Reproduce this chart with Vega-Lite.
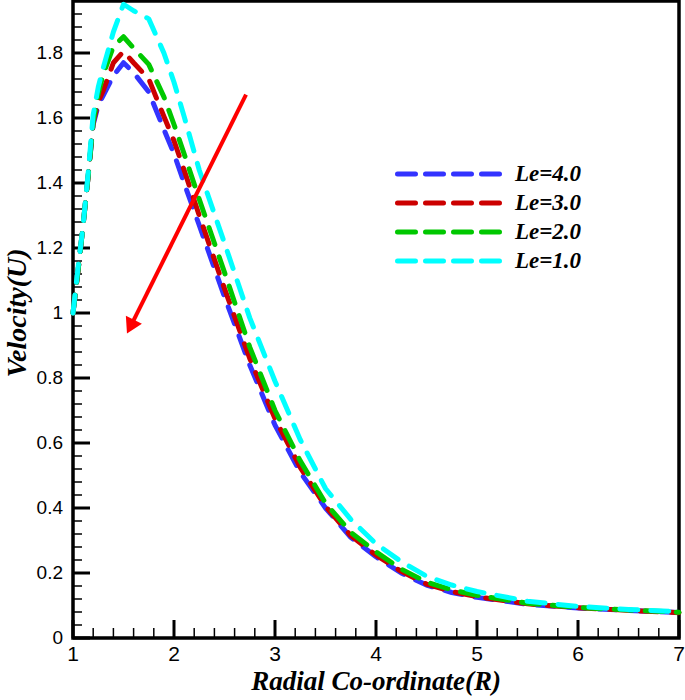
{
  "$schema": "https://vega.github.io/schema/vega-lite/v6.json",
  "width": 606,
  "height": 637,
  "autosize": {"type": "none"},
  "padding": {"left": 73, "top": 1, "right": 6, "bottom": 62},
  "background": "white",
  "config": {
    "view": {"stroke": "black", "strokeWidth": 3.5},
    "font": "Liberation Sans"
  },
  "datasets": {
    "curves": [
      {"series": "Le=4.0", "R": 1.0, "U": 1.0}, {"series": "Le=4.0", "R": 1.05, "U": 1.13}, {"series": "Le=4.0", "R": 1.1, "U": 1.27}, {"series": "Le=4.0", "R": 1.15, "U": 1.42}, {"series": "Le=4.0", "R": 1.2, "U": 1.58}, {"series": "Le=4.0", "R": 1.25, "U": 1.64}, {"series": "Le=4.0", "R": 1.3, "U": 1.67}, {"series": "Le=4.0", "R": 1.4, "U": 1.73}, {"series": "Le=4.0", "R": 1.5, "U": 1.77}, {"series": "Le=4.0", "R": 1.6, "U": 1.74}, {"series": "Le=4.0", "R": 1.75, "U": 1.68}, {"series": "Le=4.0", "R": 1.9, "U": 1.565}, {"series": "Le=4.0", "R": 2.0, "U": 1.49}, {"series": "Le=4.0", "R": 2.1, "U": 1.40}, {"series": "Le=4.0", "R": 2.25, "U": 1.27}, {"series": "Le=4.0", "R": 2.5, "U": 1.05}, {"series": "Le=4.0", "R": 2.75, "U": 0.84}, {"series": "Le=4.0", "R": 3.0, "U": 0.655}, {"series": "Le=4.0", "R": 3.25, "U": 0.51}, {"series": "Le=4.0", "R": 3.5, "U": 0.40}, {"series": "Le=4.0", "R": 3.75, "U": 0.31}, {"series": "Le=4.0", "R": 4.0, "U": 0.25}, {"series": "Le=4.0", "R": 4.25, "U": 0.20}, {"series": "Le=4.0", "R": 4.5, "U": 0.163}, {"series": "Le=4.0", "R": 4.75, "U": 0.14}, {"series": "Le=4.0", "R": 5.0, "U": 0.125}, {"series": "Le=4.0", "R": 5.5, "U": 0.104}, {"series": "Le=4.0", "R": 6.0, "U": 0.092}, {"series": "Le=4.0", "R": 6.5, "U": 0.085}, {"series": "Le=4.0", "R": 7.0, "U": 0.078},
      {"series": "Le=3.0", "R": 1.0, "U": 1.0}, {"series": "Le=3.0", "R": 1.05, "U": 1.13}, {"series": "Le=3.0", "R": 1.1, "U": 1.27}, {"series": "Le=3.0", "R": 1.15, "U": 1.42}, {"series": "Le=3.0", "R": 1.2, "U": 1.585}, {"series": "Le=3.0", "R": 1.25, "U": 1.65}, {"series": "Le=3.0", "R": 1.3, "U": 1.685}, {"series": "Le=3.0", "R": 1.4, "U": 1.77}, {"series": "Le=3.0", "R": 1.5, "U": 1.805}, {"series": "Le=3.0", "R": 1.6, "U": 1.77}, {"series": "Le=3.0", "R": 1.75, "U": 1.72}, {"series": "Le=3.0", "R": 1.9, "U": 1.605}, {"series": "Le=3.0", "R": 2.0, "U": 1.53}, {"series": "Le=3.0", "R": 2.1, "U": 1.44}, {"series": "Le=3.0", "R": 2.25, "U": 1.30}, {"series": "Le=3.0", "R": 2.5, "U": 1.075}, {"series": "Le=3.0", "R": 2.75, "U": 0.86}, {"series": "Le=3.0", "R": 3.0, "U": 0.675}, {"series": "Le=3.0", "R": 3.25, "U": 0.525}, {"series": "Le=3.0", "R": 3.5, "U": 0.405}, {"series": "Le=3.0", "R": 3.75, "U": 0.315}, {"series": "Le=3.0", "R": 4.0, "U": 0.255}, {"series": "Le=3.0", "R": 4.25, "U": 0.205}, {"series": "Le=3.0", "R": 4.5, "U": 0.166}, {"series": "Le=3.0", "R": 4.75, "U": 0.143}, {"series": "Le=3.0", "R": 5.0, "U": 0.127}, {"series": "Le=3.0", "R": 5.5, "U": 0.105}, {"series": "Le=3.0", "R": 6.0, "U": 0.093}, {"series": "Le=3.0", "R": 6.5, "U": 0.085}, {"series": "Le=3.0", "R": 7.0, "U": 0.078},
      {"series": "Le=2.0", "R": 1.0, "U": 1.0}, {"series": "Le=2.0", "R": 1.05, "U": 1.13}, {"series": "Le=2.0", "R": 1.1, "U": 1.27}, {"series": "Le=2.0", "R": 1.15, "U": 1.42}, {"series": "Le=2.0", "R": 1.2, "U": 1.59}, {"series": "Le=2.0", "R": 1.25, "U": 1.675}, {"series": "Le=2.0", "R": 1.3, "U": 1.735}, {"series": "Le=2.0", "R": 1.4, "U": 1.82}, {"series": "Le=2.0", "R": 1.5, "U": 1.85}, {"series": "Le=2.0", "R": 1.6, "U": 1.815}, {"series": "Le=2.0", "R": 1.75, "U": 1.765}, {"series": "Le=2.0", "R": 1.9, "U": 1.665}, {"series": "Le=2.0", "R": 2.0, "U": 1.58}, {"series": "Le=2.0", "R": 2.1, "U": 1.49}, {"series": "Le=2.0", "R": 2.25, "U": 1.35}, {"series": "Le=2.0", "R": 2.5, "U": 1.125}, {"series": "Le=2.0", "R": 2.75, "U": 0.895}, {"series": "Le=2.0", "R": 3.0, "U": 0.70}, {"series": "Le=2.0", "R": 3.25, "U": 0.545}, {"series": "Le=2.0", "R": 3.5, "U": 0.415}, {"series": "Le=2.0", "R": 3.75, "U": 0.325}, {"series": "Le=2.0", "R": 4.0, "U": 0.265}, {"series": "Le=2.0", "R": 4.25, "U": 0.212}, {"series": "Le=2.0", "R": 4.5, "U": 0.172}, {"series": "Le=2.0", "R": 4.75, "U": 0.148}, {"series": "Le=2.0", "R": 5.0, "U": 0.131}, {"series": "Le=2.0", "R": 5.5, "U": 0.107}, {"series": "Le=2.0", "R": 6.0, "U": 0.094}, {"series": "Le=2.0", "R": 6.5, "U": 0.086}, {"series": "Le=2.0", "R": 7.0, "U": 0.079},
      {"series": "Le=1.0", "R": 1.0, "U": 1.0}, {"series": "Le=1.0", "R": 1.05, "U": 1.14}, {"series": "Le=1.0", "R": 1.1, "U": 1.27}, {"series": "Le=1.0", "R": 1.15, "U": 1.43}, {"series": "Le=1.0", "R": 1.2, "U": 1.61}, {"series": "Le=1.0", "R": 1.25, "U": 1.695}, {"series": "Le=1.0", "R": 1.3, "U": 1.755}, {"series": "Le=1.0", "R": 1.4, "U": 1.865}, {"series": "Le=1.0", "R": 1.5, "U": 1.95}, {"series": "Le=1.0", "R": 1.6, "U": 1.93}, {"series": "Le=1.0", "R": 1.75, "U": 1.905}, {"series": "Le=1.0", "R": 1.9, "U": 1.80}, {"series": "Le=1.0", "R": 2.0, "U": 1.71}, {"series": "Le=1.0", "R": 2.1, "U": 1.605}, {"series": "Le=1.0", "R": 2.25, "U": 1.44}, {"series": "Le=1.0", "R": 2.5, "U": 1.215}, {"series": "Le=1.0", "R": 2.75, "U": 0.985}, {"series": "Le=1.0", "R": 3.0, "U": 0.79}, {"series": "Le=1.0", "R": 3.25, "U": 0.61}, {"series": "Le=1.0", "R": 3.5, "U": 0.46}, {"series": "Le=1.0", "R": 3.75, "U": 0.365}, {"series": "Le=1.0", "R": 4.0, "U": 0.29}, {"series": "Le=1.0", "R": 4.25, "U": 0.235}, {"series": "Le=1.0", "R": 4.5, "U": 0.19}, {"series": "Le=1.0", "R": 4.75, "U": 0.163}, {"series": "Le=1.0", "R": 5.0, "U": 0.143}, {"series": "Le=1.0", "R": 5.5, "U": 0.113}, {"series": "Le=1.0", "R": 6.0, "U": 0.097}, {"series": "Le=1.0", "R": 6.5, "U": 0.088}, {"series": "Le=1.0", "R": 7.0, "U": 0.081}
    ],
    "arrow": [
      {"R1": 2.713, "U1": 1.672, "R2": 1.58, "U2": 0.965}
    ],
    "axistitles": [
      {"axis": "x", "text": "Radial Co-ordinate(R)"},
      {"axis": "y", "text": "Velocity(U)"}
    ],
    "xticks": [
      {"v": 1, "major": true}, {"v": 1.2, "major": false}, {"v": 1.4, "major": false}, {"v": 1.6, "major": false}, {"v": 1.8, "major": false},
      {"v": 2, "major": true}, {"v": 2.2, "major": false}, {"v": 2.4, "major": false}, {"v": 2.6, "major": false}, {"v": 2.8, "major": false},
      {"v": 3, "major": true}, {"v": 3.2, "major": false}, {"v": 3.4, "major": false}, {"v": 3.6, "major": false}, {"v": 3.8, "major": false},
      {"v": 4, "major": true}, {"v": 4.2, "major": false}, {"v": 4.4, "major": false}, {"v": 4.6, "major": false}, {"v": 4.8, "major": false},
      {"v": 5, "major": true}, {"v": 5.2, "major": false}, {"v": 5.4, "major": false}, {"v": 5.6, "major": false}, {"v": 5.8, "major": false},
      {"v": 6, "major": true}, {"v": 6.2, "major": false}, {"v": 6.4, "major": false}, {"v": 6.6, "major": false}, {"v": 6.8, "major": false},
      {"v": 7, "major": true}
    ],
    "yticks": [
      {"v": 0, "major": true}, {"v": 0.04, "major": false}, {"v": 0.08, "major": false}, {"v": 0.12, "major": false}, {"v": 0.16, "major": false},
      {"v": 0.2, "major": true}, {"v": 0.24, "major": false}, {"v": 0.28, "major": false}, {"v": 0.32, "major": false}, {"v": 0.36, "major": false},
      {"v": 0.4, "major": true}, {"v": 0.44, "major": false}, {"v": 0.48, "major": false}, {"v": 0.52, "major": false}, {"v": 0.56, "major": false},
      {"v": 0.6, "major": true}, {"v": 0.64, "major": false}, {"v": 0.68, "major": false}, {"v": 0.72, "major": false}, {"v": 0.76, "major": false},
      {"v": 0.8, "major": true}, {"v": 0.84, "major": false}, {"v": 0.88, "major": false}, {"v": 0.92, "major": false}, {"v": 0.96, "major": false},
      {"v": 1, "major": true}, {"v": 1.04, "major": false}, {"v": 1.08, "major": false}, {"v": 1.12, "major": false}, {"v": 1.16, "major": false},
      {"v": 1.2, "major": true}, {"v": 1.24, "major": false}, {"v": 1.28, "major": false}, {"v": 1.32, "major": false}, {"v": 1.36, "major": false},
      {"v": 1.4, "major": true}, {"v": 1.44, "major": false}, {"v": 1.48, "major": false}, {"v": 1.52, "major": false}, {"v": 1.56, "major": false},
      {"v": 1.6, "major": true}, {"v": 1.64, "major": false}, {"v": 1.68, "major": false}, {"v": 1.72, "major": false}, {"v": 1.76, "major": false},
      {"v": 1.8, "major": true}, {"v": 1.84, "major": false}, {"v": 1.88, "major": false}, {"v": 1.92, "major": false}
    ]
  },
  "layer": [
    {
      "data": {"name": "xticks"},
      "transform": [{"filter": "datum.major"}],
      "mark": {"type": "rule", "color": "black", "strokeWidth": 3, "y2Offset": -18},
      "encoding": {
        "x": {"field": "v", "type": "quantitative", "axis": null},
        "y": {"datum": 0, "type": "quantitative", "axis": null},
        "y2": {"datum": 0}
      }
    },
    {
      "data": {"name": "xticks"},
      "transform": [{"filter": "!datum.major"}],
      "mark": {"type": "rule", "color": "black", "strokeWidth": 1.5, "y2Offset": -10},
      "encoding": {
        "x": {"field": "v", "type": "quantitative", "axis": null},
        "y": {"datum": 0, "type": "quantitative", "axis": null},
        "y2": {"datum": 0}
      }
    },
    {
      "data": {"name": "yticks"},
      "transform": [{"filter": "datum.major"}],
      "mark": {"type": "rule", "color": "black", "strokeWidth": 3, "x2Offset": 17},
      "encoding": {
        "y": {"field": "v", "type": "quantitative", "axis": null},
        "x": {"datum": 1, "type": "quantitative", "axis": null},
        "x2": {"datum": 1}
      }
    },
    {
      "data": {"name": "yticks"},
      "transform": [{"filter": "!datum.major"}],
      "mark": {"type": "rule", "color": "black", "strokeWidth": 1.5, "x2Offset": 9},
      "encoding": {
        "y": {"field": "v", "type": "quantitative", "axis": null},
        "x": {"datum": 1, "type": "quantitative", "axis": null},
        "x2": {"datum": 1}
      }
    },
    {
      "data": {"name": "xticks"},
      "transform": [{"filter": "datum.major"}],
      "mark": {"type": "text", "font": "Liberation Sans", "fontSize": 21, "color": "black", "align": "center", "baseline": "middle", "dy": 17},
      "encoding": {
        "x": {"field": "v", "type": "quantitative", "axis": null},
        "y": {"datum": 0, "type": "quantitative", "axis": null},
        "text": {"field": "v", "type": "quantitative", "format": "d"}
      }
    },
    {
      "data": {"name": "yticks"},
      "transform": [{"filter": "datum.major"}],
      "mark": {"type": "text", "font": "Liberation Sans", "fontSize": 19, "color": "black", "align": "right", "baseline": "middle", "dx": -10},
      "encoding": {
        "y": {"field": "v", "type": "quantitative", "axis": null},
        "x": {"datum": 1, "type": "quantitative", "axis": null},
        "text": {"field": "v", "type": "quantitative", "format": ".1~f"}
      }
    },
    {
      "data": {"name": "axistitles"},
      "transform": [{"filter": "datum.axis == 'x'"}],
      "mark": {"type": "text", "font": "Liberation Serif", "fontSize": 27, "fontWeight": "bold", "fontStyle": "italic", "color": "black", "align": "center", "baseline": "alphabetic", "dy": 52},
      "encoding": {
        "x": {"datum": 4, "type": "quantitative", "axis": null},
        "y": {"datum": 0, "type": "quantitative", "axis": null},
        "text": {"field": "text", "type": "nominal"}
      }
    },
    {
      "data": {"name": "axistitles"},
      "transform": [{"filter": "datum.axis == 'y'"}],
      "mark": {"type": "text", "font": "Liberation Serif", "fontSize": 28, "fontWeight": "bold", "fontStyle": "italic", "color": "black", "align": "center", "baseline": "alphabetic", "angle": 270, "dy": -47},
      "encoding": {
        "x": {"datum": 1, "type": "quantitative", "axis": null},
        "y": {"datum": 1.0, "type": "quantitative", "axis": null},
        "text": {"field": "text", "type": "nominal"}
      }
    },
    {
      "data": {"name": "curves"},
      "mark": {"type": "line", "strokeWidth": 5, "strokeDash": [18, 13], "strokeCap": "round", "strokeJoin": "round"},
      "encoding": {
        "x": {
          "field": "R", "type": "quantitative",
          "scale": {"domain": [1, 7], "nice": false, "zero": false},
          "axis": null
        },
        "y": {
          "field": "U", "type": "quantitative",
          "scale": {"domain": [0, 1.96], "nice": false, "zero": false},
          "axis": null
        },
        "color": {
          "field": "series", "type": "nominal",
          "scale": {"domain": ["Le=4.0", "Le=3.0", "Le=2.0", "Le=1.0"], "range": ["#3333ff", "#cc0000", "#00c800", "#00ffff"]},
          "legend": {
            "title": null, "orient": "none", "legendX": 322, "legendY": 158.5, "padding": 0,
            "symbolType": "stroke", "symbolSize": 10404, "symbolStrokeWidth": 5, "symbolDash": [18, 10],
            "clipHeight": 29, "rowPadding": 0, "labelOffset": 13,
            "labelFont": "Liberation Serif", "labelFontSize": 23, "labelFontWeight": "bold", "labelFontStyle": "italic", "labelColor": "black",
            "labelLimit": 200,
            "encode": {"symbols": {"update": {"strokeCap": {"value": "round"}}}}
          }
        }
      }
    },
    {
      "data": {"name": "arrow"},
      "mark": {"type": "rule", "color": "#ff0000", "strokeWidth": 4},
      "encoding": {
        "x": {"field": "R1", "type": "quantitative", "axis": null},
        "y": {"field": "U1", "type": "quantitative", "axis": null},
        "x2": {"field": "R2"},
        "y2": {"field": "U2"}
      }
    },
    {
      "data": {"name": "arrow"},
      "mark": {"type": "point", "shape": "triangle", "filled": true, "color": "#ff0000", "size": 320, "angle": 206.5, "opacity": 1},
      "encoding": {
        "x": {"field": "R2", "type": "quantitative", "axis": null},
        "y": {"field": "U2", "type": "quantitative", "axis": null}
      }
    }
  ]
}
